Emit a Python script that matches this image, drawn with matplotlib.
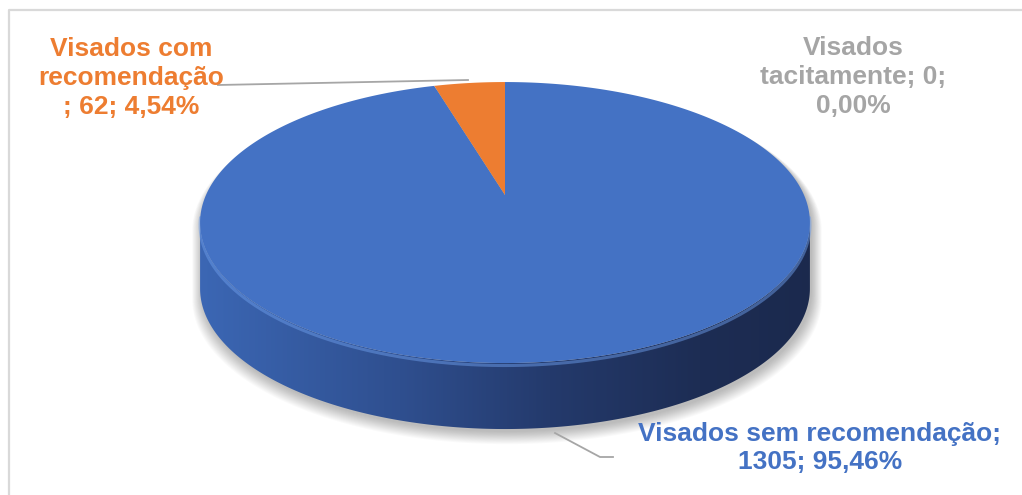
import numpy as np
import matplotlib
matplotlib.use("Agg")
import matplotlib.pyplot as plt
from matplotlib.patches import Polygon

# dados do gráfico
categorias = ["Visados sem recomendação", "Visados com recomendação", "Visados tacitamente"]
valores = [1305, 62, 0]
cores = ["#4472C4", "#ED7D31", "#A5A5A5"]
# quebras de linha de cada rótulo
rotulos_linhas = [
    "Visados sem recomendação;\n{v}; {p}",
    "Visados com\nrecomendação\n; {v}; {p}",
    "Visados\ntacitamente; {v};\n{p}",
]

W, H = 1022, 495
fig = plt.figure(figsize=(W / 100, H / 100), dpi=100)
ax = fig.add_axes([0, 0, 1, 1])
ax.set_xlim(0, W)
ax.set_ylim(H, 0)
ax.axis("off")

# geometria do disco em perspectiva (coordenadas de pixel)
cx, cy = 505, 195
a, b, k = 299, 135.1, -0.196
depth = 66


def proj(t, z=0.0):
    # t em graus, sentido horário a partir do topo
    r = np.radians(t)
    u = np.sin(r)
    v = -np.cos(r)
    w = 1 + k * v
    return np.column_stack([cx + a * u / w, cy + b * v / w + z])


# pontos extremos laterais (tangente vertical)
t_right = np.degrees(np.arccos(k))
t_left = 360 - t_right

# contorno externo (topo atrás + base à frente)
back = proj(np.linspace(t_left, t_right + 360, 300) % 360)
front_bottom = proj(np.linspace(t_right, t_left, 300), depth)
silh = np.vstack([back, front_bottom])

# sombra suave
for i in range(14):
    s = 1 + 0.0025 * i
    pts = (silh - [cx, cy + 60]) * s + [cx + 2, cy + 60 + 3 + 0.5 * i]
    ax.add_patch(Polygon(pts, closed=True, facecolor="#000000", edgecolor="none",
                         alpha=0.018, zorder=1))

# lateral com gradiente
side = np.vstack([proj(np.linspace(t_right, t_left, 300)),
                  proj(np.linspace(t_left, t_right, 300), depth)])
side_patch = Polygon(side, closed=True, facecolor="none", edgecolor="none", zorder=2)
ax.add_patch(side_patch)
xs = np.array([190, 400, 550, 700, 820])
cs = np.array([[60, 104, 182], [47, 79, 143], [36, 58, 108], [29, 45, 84], [27, 41, 77]]) / 255
gx = np.linspace(190, 820, 400)
grad = np.stack([np.interp(gx, xs, cs[:, j]) for j in range(3)], axis=-1)[None, :, :]
im = ax.imshow(grad, extent=[190, 820, 440, 200], aspect="auto", zorder=2,
               interpolation="bilinear")
im.set_clip_path(side_patch)

# brilho na borda superior da lateral
rim = proj(np.linspace(t_right - 3, t_left + 3, 300), 2.5)
ax.plot(rim[:, 0], rim[:, 1], color="#6B9BE8", lw=2.2, alpha=0.5, zorder=3,
        solid_capstyle="round")

# fatias do topo
total = sum(valores)
ang = 0.0
for val, cor in zip(valores, cores):
    span = 360 * val / total
    if span > 0:
        arc = proj(np.linspace(ang, ang + span, max(int(span * 2), 4)))
        pts = np.vstack([[cx, cy], arc])
        ax.add_patch(Polygon(pts, closed=True, facecolor=cor, edgecolor="none", zorder=4))
    ang += span

# rótulos
pos_rotulos = [(820, 448), (131, 78), (853, 77)]
for cat, val, cor, modelo, (tx, ty) in zip(categorias, valores, cores, rotulos_linhas, pos_rotulos):
    pct = f"{100 * val / total:.2f}%".replace(".", ",")
    ax.text(tx, ty, modelo.format(v=val, p=pct), color=cor, fontsize=19,
            fontweight="bold", family="Liberation Sans", ha="center", va="center",
            multialignment="center", linespacing=1.24, zorder=6)

# linhas de chamada
ax.plot([468, 218], [80, 85], color="#A6A6A6", lw=1.3, zorder=5)
ax.plot([555, 600, 613], [433, 457, 457], color="#A6A6A6", lw=1.3, zorder=5)

# moldura
ax.plot([8.5, 8.5, W], [H, 10, 10], color="#D9D9D9", lw=1.6, zorder=0)

fig.savefig("out.png", dpi=100)
